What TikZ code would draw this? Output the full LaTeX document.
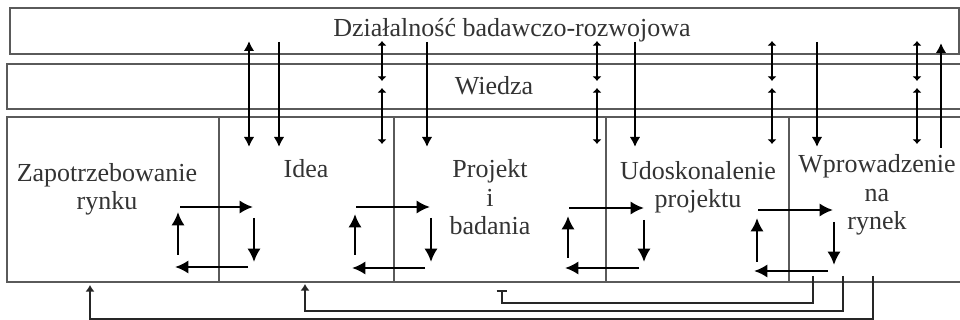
\documentclass[tikz,border=0pt]{standalone}
\usepackage{fontspec}
\setmainfont{Liberation Serif}
\usetikzlibrary{arrows.meta,fit}
\definecolor{boxc}{HTML}{5A5A5A}
\definecolor{txtc}{HTML}{333333}
\begin{document}
\begin{tikzpicture}[x=0.75pt,y=-0.75pt,
  frame/.style={draw=boxc,line width=1.4pt,inner sep=0pt},
  stage/.style={draw=boxc,line width=0.8pt,inner sep=0pt},
  lbl/.style={text=txtc,font=\fontsize{19.5}{21.5}\selectfont,align=center,inner sep=0pt,anchor=base},
  vlink/.style={line width=1.9pt,draw=black},
  vhead/.style={-{Latex[length=7.5pt,width=8pt]}},
  vboth/.style={{Latex[length=7.5pt,width=8pt]}-{Latex[length=7.5pt,width=8pt]}},
  sboth/.style={{Latex[length=3.5pt,width=7pt]}-{Latex[length=3.5pt,width=7pt]}},
  loop/.style={line width=2.2pt,draw=black,-{Latex[length=10pt,width=10pt]}},
  fb/.style={line width=1.1pt,draw=black!85},
  fbhead/.style={-{Latex[length=5pt,width=7pt]}},
  fbbar/.style={-{Bar[width=8pt,line width=1.5pt]}}]
\useasboundingbox (0,0) rectangle (960,320);
% boxes
\node[frame,fit={(10,8) (959,54)}] (rd) {};
\node[frame,fit={(7,64) (962,109)}] (wiedza) {};
\node[stage,fit={(7,117) (219,282)}] (s1) {};
\node[stage,fit={(219,117) (394,282)}] (s2) {};
\node[stage,fit={(394,117) (606,282)}] (s3) {};
\node[stage,fit={(606,117) (789,282)}] (s4) {};
\node[stage,fit={(789,117) (962,282)}] (s5) {};
\node[frame,fit={(7,117) (962,282)}] (main) {};
% labels (anchor = baseline of last line)
\node[lbl] (trd) at (512,37) {Działalność badawczo-rozwojowa};
\node[lbl] (tw) at (494,95) {Wiedza};
\node[lbl] (t1) at (107,210) {Zapotrzebowanie\\rynku};
\node[lbl] (t2) at (306,178) {Idea};
\node[lbl] (t3) at (490,235) {Projekt\\i\\badania};
\node[lbl] (t4) at (698,208) {Udoskonalenie\\projektu};
\node[lbl] (t5) at (877,230) {Wprowadzenie\\na\\rynek};
% vertical links between layers
\coordinate (a1t) at (249,41); \coordinate (a1b) at (249,147);
\draw[vlink,vboth] (a1t) -- (a1b);
\coordinate (b1t) at (279,42); \coordinate (b1b) at (279,147);
\draw[vlink,vhead] (b1t) -- (b1b);
\coordinate (b2t) at (427,42); \coordinate (b2b) at (427,147);
\draw[vlink,vhead] (b2t) -- (b2b);
\coordinate (b3t) at (635,42); \coordinate (b3b) at (635,147);
\draw[vlink,vhead] (b3t) -- (b3b);
\coordinate (b4t) at (817,42); \coordinate (b4b) at (817,147);
\draw[vlink,vhead] (b4t) -- (b4b);
\coordinate (up5b) at (941,148); \coordinate (up5t) at (941,43);
\draw[vlink,vhead] (up5b) -- (up5t);
\foreach \x/\n in {382/c2,597/c3,772/c4,917/c5}{
  \coordinate (\n u1) at (\x,41); \coordinate (\n u2) at (\x,81);
  \coordinate (\n l1) at (\x,88); \coordinate (\n l2) at (\x,144);
  \draw[vlink,sboth] (\n u1) -- (\n u2);
  \draw[vlink,sboth] (\n l1) -- (\n l2);
}
% cycles
\draw[loop] (180,207) -- (253,207);
\draw[loop] (254,218) -- (254,262);
\draw[loop] (248,267) -- (175,267);
\draw[loop] (178,255) -- (178,212);
\draw[loop] (356,207) -- (430,207);
\draw[loop] (431,218) -- (431,262);
\draw[loop] (425,268) -- (352,268);
\draw[loop] (355,255) -- (355,214);
\draw[loop] (569,208) -- (644,208);
\draw[loop] (644,220) -- (644,262);
\draw[loop] (639,268) -- (565,268);
\draw[loop] (568,258) -- (568,216);
\draw[loop] (758,210) -- (833,210);
\draw[loop] (834,222) -- (834,265);
\draw[loop] (828,271) -- (754,271);
\draw[loop] (757,262) -- (757,218);
% feedback lines
\coordinate (fa0) at (813,276); \coordinate (fa1) at (502,290);
\coordinate (fb0) at (843,276); \coordinate (fb1) at (305,284);
\coordinate (fc0) at (873,276); \coordinate (fc1) at (90,285);
\draw[fb,fbbar] (fa0) -- (813,303) -| (fa1);
\draw[fb,fbhead] (fb0) -- (843,311) -| (fb1);
\draw[fb,fbhead] (fc0) -- (873,319) -| (fc1);
\end{tikzpicture}
\end{document}
